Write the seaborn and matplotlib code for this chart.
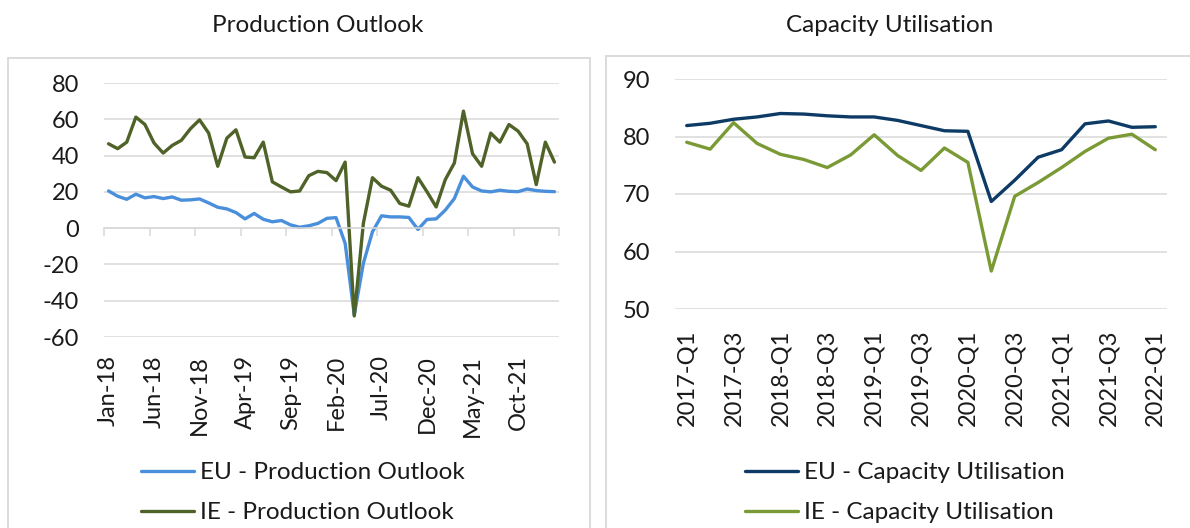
import matplotlib
matplotlib.use("Agg")
import matplotlib.pyplot as plt
import matplotlib.patches as patches
import seaborn as sns
import numpy as np
import pandas as pd

# monthly production outlook, Jan-18 .. Feb-22
months = list(pd.date_range("2018-01-01", periods=50, freq="MS").strftime("%b-%y"))
eu_prod = [20.5, 17.6, 15.9, 18.7, 16.7, 17.4, 16.3, 17.2, 15.4, 15.6,
           16.1, 13.9, 11.5, 10.6, 8.6, 5.1, 8.1, 4.9, 3.5, 4.2,
           1.8, 0.5, 1.3, 2.6, 5.4, 5.8, -8.4, -47.8, -19.4, -2.0,
           6.8, 6.2, 6.2, 5.9, -0.7, 4.8, 5.1, 9.9, 16.3, 28.6,
           22.7, 20.5, 20.0, 20.9, 20.3, 20.1, 21.6, 20.7, 20.3, 20.1]
ie_prod = [46.5, 43.8, 47.4, 61.2, 57.1, 46.9, 41.4, 45.6, 48.4, 54.8,
           59.7, 52.4, 34.1, 49.6, 54.2, 39.2, 38.8, 47.4, 25.5, 22.7,
           20.0, 20.5, 28.9, 31.3, 30.6, 26.2, 36.4, -48.4, 2.6, 27.8,
           23.1, 20.9, 13.6, 12.1, 27.8, 20.0, 11.7, 26.7, 35.9, 64.5,
           41.0, 34.1, 52.4, 47.4, 57.1, 53.5, 46.5, 24.0, 47.4, 36.4]

# quarterly capacity utilisation, 2017-Q1 .. 2022-Q1
quarters = [f"{p.year}-Q{p.quarter}" for p in pd.period_range("2017Q1", periods=21, freq="Q")]
eu_cap = [81.9, 82.3, 83.0, 83.4, 84.0, 83.9, 83.6, 83.4, 83.4, 82.8,
          81.9, 81.0, 80.9, 68.7, 72.4, 76.4, 77.7, 82.2, 82.7, 81.6, 81.7]
ie_cap = [79.0, 77.8, 82.4, 78.8, 76.9, 76.0, 74.6, 76.8, 80.3, 76.7,
          74.1, 78.0, 75.5, 56.6, 69.6, 72.0, 74.6, 77.4, 79.7, 80.4, 77.7]

sns.set_theme(style="white")
plt.rcParams["font.family"] = ["Lato", "DejaVu Sans"]
plt.rcParams["axes.unicode_minus"] = False
grid_col = "#D9D9D9"
txt_col = "#1a1a1a"
fs = 17

W, H = 1190, 528
fig = plt.figure(figsize=(W / 100, H / 100), dpi=100)


def px_axes(x0, x1, ytop, ybot):
    return fig.add_axes([x0 / W, 1 - ybot / H, (x1 - x0) / W, (ybot - ytop) / H])


# panel frames
fig.add_artist(patches.Rectangle((8 / W, -0.05), (590 - 8) / W, 1.05 - 58 / H,
                                 transform=fig.transFigure, fill=False,
                                 edgecolor=grid_col, lw=1.3))
fig.add_artist(patches.Rectangle((606 / W, -0.05), 0.5, 1.05 - 56 / H,
                                 transform=fig.transFigure, fill=False,
                                 edgecolor=grid_col, lw=1.3))

fig.text(318 / W, 1 - 26 / H, "Production Outlook", ha="center", va="center",
         fontsize=17.5, color=txt_col)
fig.text(890 / W, 1 - 26 / H, "Capacity Utilisation", ha="center", va="center",
         fontsize=17.5, color=txt_col)

# ---- left: production outlook
df1 = pd.DataFrame({"idx": range(len(months)),
                    "EU - Production Outlook": eu_prod,
                    "IE - Production Outlook": ie_prod})
df1 = df1.melt(id_vars="idx", var_name="series", value_name="value")

ax1 = px_axes(104, 559, 83, 337)
sns.lineplot(data=df1, x="idx", y="value", hue="series",
             palette=["#4A8FDB", "#4F6228"], linewidth=2.4, ax=ax1, legend=True)
ax1.set_xlim(-0.5, len(months) - 0.5)
ax1.set_ylim(-60, 80)
ax1.set_yticks(range(-60, 81, 20))
ax1.yaxis.grid(True, color=grid_col, lw=1.1)
ax1.set_axisbelow(True)
for s in ["top", "left", "right"]:
    ax1.spines[s].set_visible(False)
ax1.spines["bottom"].set_position(("data", 0))
ax1.spines["bottom"].set_color(grid_col)
ax1.spines["bottom"].set_linewidth(1.1)
ax1.set_xticks(np.arange(-0.5, len(months), 5))
ax1.tick_params(axis="x", bottom=True, length=6, width=1.1, color=grid_col,
                labelbottom=False)
ax1.tick_params(axis="y", length=0, pad=18, labelsize=fs, labelcolor=txt_col)
ax1.set_xlabel("")
ax1.set_ylabel("")
sec1 = ax1.secondary_xaxis("bottom")
sec1.set_xticks(range(0, len(months), 5), [months[i] for i in range(0, len(months), 5)])
sec1.tick_params(length=0, pad=13, labelsize=fs, labelcolor=txt_col, labelrotation=90)
sec1.spines["bottom"].set_visible(False)
h, l = ax1.get_legend_handles_labels()
ax1.legend(h, l, loc="upper left", bbox_to_anchor=(141 / W, 1 - 462 / H),
           bbox_transform=fig.transFigure, frameon=False, fontsize=17.5,
           handlelength=2.2, handletextpad=0.22, labelspacing=0.8,
           borderpad=0, borderaxespad=0, labelcolor=txt_col)

# ---- right: capacity utilisation
df2 = pd.DataFrame({"idx": range(len(quarters)),
                    "EU - Capacity Utilisation": eu_cap,
                    "IE - Capacity Utilisation": ie_cap})
df2 = df2.melt(id_vars="idx", var_name="series", value_name="value")

ax2 = px_axes(675, 1167, 79, 309)
sns.lineplot(data=df2, x="idx", y="value", hue="series",
             palette=["#0D3B66", "#7A9A35"], linewidth=2.4, ax=ax2, legend=True)
ax2.set_xlim(-0.5, len(quarters) - 0.5)
ax2.set_ylim(50, 90)
ax2.set_yticks(range(50, 91, 10))
ax2.yaxis.grid(True, color=grid_col, lw=1.1)
ax2.set_axisbelow(True)
for s in ax2.spines.values():
    s.set_visible(False)
ax2.set_xticks(range(0, len(quarters), 2), quarters[::2])
ax2.tick_params(axis="x", length=0, pad=15, labelsize=fs, labelcolor=txt_col,
                labelrotation=90)
ax2.tick_params(axis="y", length=0, pad=18, labelsize=fs, labelcolor=txt_col)
ax2.set_xlabel("")
ax2.set_ylabel("")
h, l = ax2.get_legend_handles_labels()
ax2.legend(h, l, loc="upper left", bbox_to_anchor=(745 / W, 1 - 462 / H),
           bbox_transform=fig.transFigure, frameon=False, fontsize=17.5,
           handlelength=2.2, handletextpad=0.22, labelspacing=0.8,
           borderpad=0, borderaxespad=0, labelcolor=txt_col)

fig.savefig("out.png", dpi=100)
